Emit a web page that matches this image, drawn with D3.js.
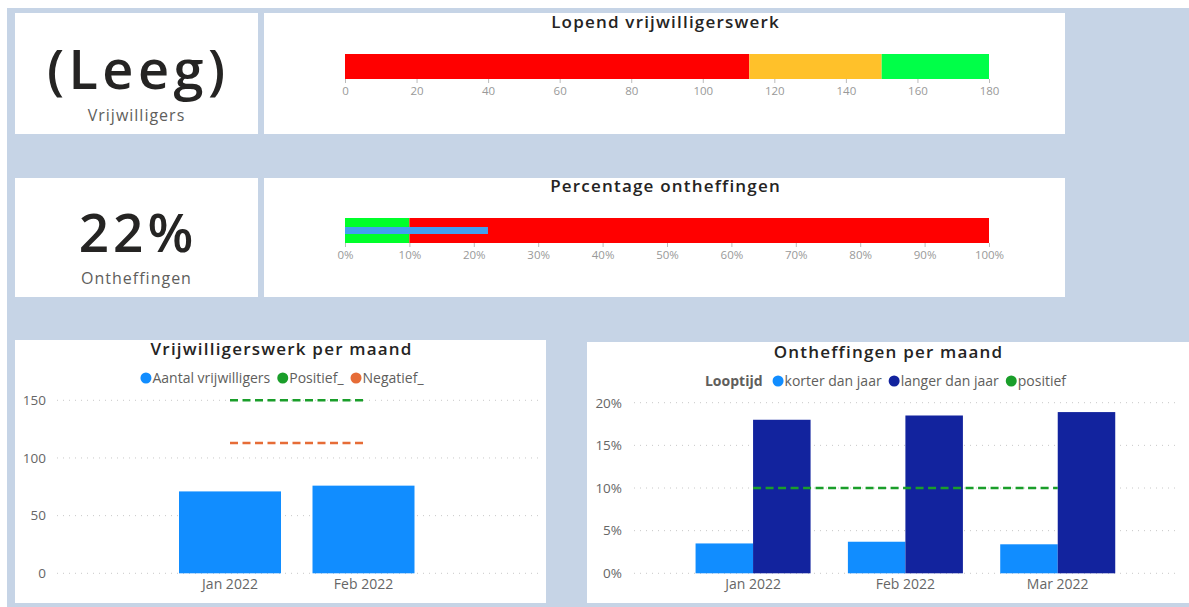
<!DOCTYPE html>
<html>
<head>
<meta charset="utf-8">
<script src="https://cdn.jsdelivr.net/npm/d3@7"></script>
<style>
  body { margin: 0; background: #fff; }
  svg { display: block; }
  text { font-family: "Open Sans", "Noto Sans", sans-serif; }
</style>
</head>
<body>
<svg id="chart" width="1189" height="607"></svg>
<script>
// ---------------- DATA ----------------
// KPI cards
const kpiVolunteersValue = "(Leeg)";
const kpiVolunteersLabel = "Vrijwilligers";
const kpiExemptionValue = "22%";
const kpiExemptionLabel = "Ontheffingen";

// Bullet 1: Lopend vrijwilligerswerk
const bullet1Title = "Lopend vrijwilligerswerk";
const bullet1Bands = [113, 150, 180];               // band upper limits
const bullet1BandColors = ["#ff0000", "#ffc12a", "#00ff48"];
const bullet1Ticks = [0, 20, 40, 60, 80, 100, 120, 140, 160, 180];

// Bullet 2: Percentage ontheffingen
const bullet2Title = "Percentage ontheffingen";
const bullet2Bands = [0.10, 1.00];
const bullet2BandColors = ["#00ff2a", "#ff0000"];
const bullet2Value = 0.222;
const bullet2Ticks = [0, 0.1, 0.2, 0.3, 0.4, 0.5, 0.6, 0.7, 0.8, 0.9, 1.0];

// Chart 3: Vrijwilligerswerk per maand
const chart3Title = "Vrijwilligerswerk per maand";
const months3 = ["Jan 2022", "Feb 2022"];
const aantalVrijwilligers = [71, 76];
const positief3 = [150, 150];
const negatief3 = [113, 113];
const chart3Ticks = [0, 50, 100, 150];
const chart3Legend = ["Aantal vrijwilligers", "Positief_", "Negatief_"];

// Chart 4: Ontheffingen per maand
const chart4Title = "Ontheffingen per maand";
const months4 = ["Jan 2022", "Feb 2022", "Mar 2022"];
const korterDanJaar = [0.035, 0.037, 0.034];
const langerDanJaar = [0.180, 0.185, 0.189];
const positief4 = [0.10, 0.10, 0.10];
const chart4Ticks = [0, 0.05, 0.10, 0.15, 0.20];
const chart4LegendTitle = "Looptijd";
const chart4Legend = ["korter dan jaar", "langer dan jaar", "positief"];

// ---------------- STYLE ----------------
const BG = "#c6d4e6";
const TITLE = "#252423";
const LABEL = "#605e5c";
const AXIS_GRAY = "#999";
const BLUE = "#118dff";
const DARK_BLUE = "#12239e";
const GREEN = "#1a9e2a";
const ORANGE = "#e66c37";

const svg = d3.select("#chart");

// background
svg.append("rect").attr("x", 7).attr("y", 8).attr("width", 1189 - 7).attr("height", 607 - 8).attr("fill", BG);

// cards
const cards = [
  [15, 13, 243, 121], [264, 13, 801, 121],
  [15, 178, 243, 119], [264, 178, 801, 119],
  [15, 340, 531, 263], [587, 342, 602, 261]
];
svg.selectAll("rect.card").data(cards).join("rect").attr("class", "card")
  .attr("x", d => d[0]).attr("y", d => d[1]).attr("width", d => d[2]).attr("height", d => d[3])
  .attr("fill", "#fff");

// ---------------- KPI CARDS ----------------
function kpi(cx, valueY, labelY, value, label, size, spacing) {
  svg.append("text").attr("x", cx + spacing / 2).attr("y", valueY).attr("text-anchor", "middle")
    .attr("font-size", size).attr("font-weight", 600).attr("fill", TITLE)
    .attr("letter-spacing", spacing).text(value);
  svg.append("text").attr("x", cx + 0.5).attr("y", labelY).attr("text-anchor", "middle")
    .attr("font-family", "Lato, Open Sans, sans-serif")
    .attr("font-size", 16).attr("letter-spacing", 1).attr("fill", LABEL).text(label);
}
kpi(136, 89, 121, kpiVolunteersValue, kpiVolunteersLabel, 54, 4.5);
kpi(136, 252, 284, kpiExemptionValue, kpiExemptionLabel, 53, 4);

// ---------------- BULLETS ----------------
const bx = d3.scaleLinear().domain([0, 180]).range([345, 989]);
function title(cx, y, t) {
  svg.append("text").attr("x", cx + 0.6).attr("y", y).attr("text-anchor", "middle")
    .attr("font-size", 17).attr("font-weight", 600).attr("letter-spacing", 1.2)
    .attr("fill", TITLE).text(t);
}
function styleAxis(g) {
  g.select(".domain").remove();
  g.selectAll(".tick line").attr("stroke", "#bbb");
  g.selectAll(".tick text").attr("fill", AXIS_GRAY).attr("font-size", 11.5)
    .attr("font-family", "Liberation Sans, Arial, sans-serif");
}

title(665, 28, bullet1Title);
const b1 = bullet1Bands.map((v, i) => ({ from: i ? bullet1Bands[i - 1] : 0, to: v, c: bullet1BandColors[i] }));
svg.selectAll("rect.b1").data(b1).join("rect").attr("class", "b1")
  .attr("x", d => bx(d.from)).attr("width", d => bx(d.to) - bx(d.from))
  .attr("y", 54).attr("height", 25).attr("fill", d => d.c);
svg.append("g").attr("transform", "translate(0,79)")
  .call(d3.axisBottom(bx).tickValues(bullet1Ticks).tickSize(4).tickPadding(4))
  .call(styleAxis);

const px = d3.scaleLinear().domain([0, 1]).range([345, 989]);
title(665, 192, bullet2Title);
const b2 = bullet2Bands.map((v, i) => ({ from: i ? bullet2Bands[i - 1] : 0, to: v, c: bullet2BandColors[i] }));
svg.selectAll("rect.b2").data(b2).join("rect").attr("class", "b2")
  .attr("x", d => px(d.from)).attr("width", d => px(d.to) - px(d.from))
  .attr("y", 218).attr("height", 25).attr("fill", d => d.c);
svg.append("rect").attr("x", px(0)).attr("width", px(bullet2Value) - px(0))
  .attr("y", 227).attr("height", 7).attr("fill", "#42a0f0");
svg.append("g").attr("transform", "translate(0,243)")
  .call(d3.axisBottom(px).tickValues(bullet2Ticks).tickSize(4).tickPadding(4).tickFormat(d3.format(".0%")))
  .call(styleAxis);

// ---------------- LEGEND helper ----------------
function legend(cx, y, items, colors, heading) {
  const g = svg.append("g");
  let x = 0;
  if (heading) {
    const t = g.append("text").attr("x", x).attr("y", y + 5).attr("font-size", 14)
      .attr("font-weight", 700).attr("fill", LABEL).text(heading);
    x += t.node().getComputedTextLength() + 10;
  }
  items.forEach((name, i) => {
    g.append("circle").attr("cx", x + 5.5).attr("cy", y).attr("r", 5.5).attr("fill", colors[i]);
    x += 12;
    const t = g.append("text").attr("x", x).attr("y", y + 5).attr("font-size", 14)
      .attr("fill", LABEL).text(name);
    x += t.node().getComputedTextLength() + 7;
  });
  x -= 7;
  g.attr("transform", `translate(${cx - x / 2},0)`);
}

function gridAndY(y, ticks, x0, x1, labelX, fmt) {
  const g = svg.append("g");
  g.selectAll("line").data(ticks).join("line")
    .attr("x1", x0).attr("x2", x1).attr("y1", d => y(d)).attr("y2", d => y(d))
    .attr("stroke", "#c8c8c8").attr("stroke-width", 1).attr("stroke-dasharray", "1,5");
  const ax = svg.append("g").attr("transform", `translate(${labelX},0)`)
    .call(d3.axisLeft(y).tickValues(ticks).tickSize(0).tickPadding(0).tickFormat(fmt));
  ax.select(".domain").remove();
  ax.selectAll(".tick text").attr("fill", "#666").attr("font-size", 13.5);
}

// ---------------- CHART 3 ----------------
title(281, 355, chart3Title);
legend(282, 378, chart3Legend, [BLUE, GREEN, ORANGE]);
const y3 = d3.scaleLinear().domain([0, 150]).range([573.3, 400.3]);
gridAndY(y3, chart3Ticks, 57, 538, 46, d3.format("d"));
const x3 = d3.scaleBand().domain(months3).range([163.25, 430.25]).paddingInner(0.236).paddingOuter(0.118);
svg.selectAll("rect.v").data(months3).join("rect").attr("class", "v")
  .attr("x", d => x3(d)).attr("width", x3.bandwidth())
  .attr("y", (d, i) => y3(aantalVrijwilligers[i])).attr("height", (d, i) => y3(0) - y3(aantalVrijwilligers[i]))
  .attr("fill", BLUE);
const line3 = (vals) => d3.line().x((d, i) => x3(months3[i]) + x3.bandwidth() / 2).y(d => y3(d))(vals);
svg.append("path").attr("d", line3(positief3)).attr("stroke", GREEN).attr("stroke-width", 2.5)
  .attr("stroke-dasharray", "8,4.5").attr("fill", "none");
svg.append("path").attr("d", line3(negatief3)).attr("stroke", ORANGE).attr("stroke-width", 2.5)
  .attr("stroke-dasharray", "8,4.5").attr("fill", "none");
const ax3 = svg.append("g").attr("transform", "translate(0,575)")
  .call(d3.axisBottom(x3).tickSize(0).tickPadding(4));
ax3.select(".domain").remove();
ax3.selectAll(".tick text").attr("fill", "#666").attr("font-size", 14);

// ---------------- CHART 4 ----------------
title(888, 358, chart4Title);
legend(885.5, 381, chart4Legend, [BLUE, DARK_BLUE, GREEN], chart4LegendTitle);
const y4 = d3.scaleLinear().domain([0, 0.20]).range([573.3, 402.7]);
gridAndY(y4, chart4Ticks, 634, 1180, 622, d3.format(".0%"));
const x4 = d3.scaleBand().domain(months4).range([676.9, 1133.9]).paddingInner(0.245).paddingOuter(0.1225);
const x4s = d3.scaleBand().domain(["korter", "langer"]).range([0, x4.bandwidth()]);
const groups = svg.selectAll("g.grp").data(months4).join("g").attr("class", "grp")
  .attr("transform", d => `translate(${x4(d)},0)`);
groups.append("rect").attr("x", x4s("korter")).attr("width", x4s.bandwidth())
  .attr("y", (d, i) => y4(korterDanJaar[i])).attr("height", (d, i) => y4(0) - y4(korterDanJaar[i]))
  .attr("fill", BLUE);
groups.append("rect").attr("x", x4s("langer")).attr("width", x4s.bandwidth())
  .attr("y", (d, i) => y4(langerDanJaar[i])).attr("height", (d, i) => y4(0) - y4(langerDanJaar[i]))
  .attr("fill", DARK_BLUE);
const line4 = d3.line().x((d, i) => x4(months4[i]) + x4.bandwidth() / 2).y(d => y4(d));
svg.append("path").attr("d", line4(positief4)).attr("stroke", GREEN).attr("stroke-width", 2.5)
  .attr("stroke-dasharray", "8,4.5").attr("fill", "none");
const ax4 = svg.append("g").attr("transform", "translate(0,575)")
  .call(d3.axisBottom(x4).tickSize(0).tickPadding(4));
ax4.select(".domain").remove();
ax4.selectAll(".tick text").attr("fill", "#666").attr("font-size", 14);
</script>
</body>
</html>
